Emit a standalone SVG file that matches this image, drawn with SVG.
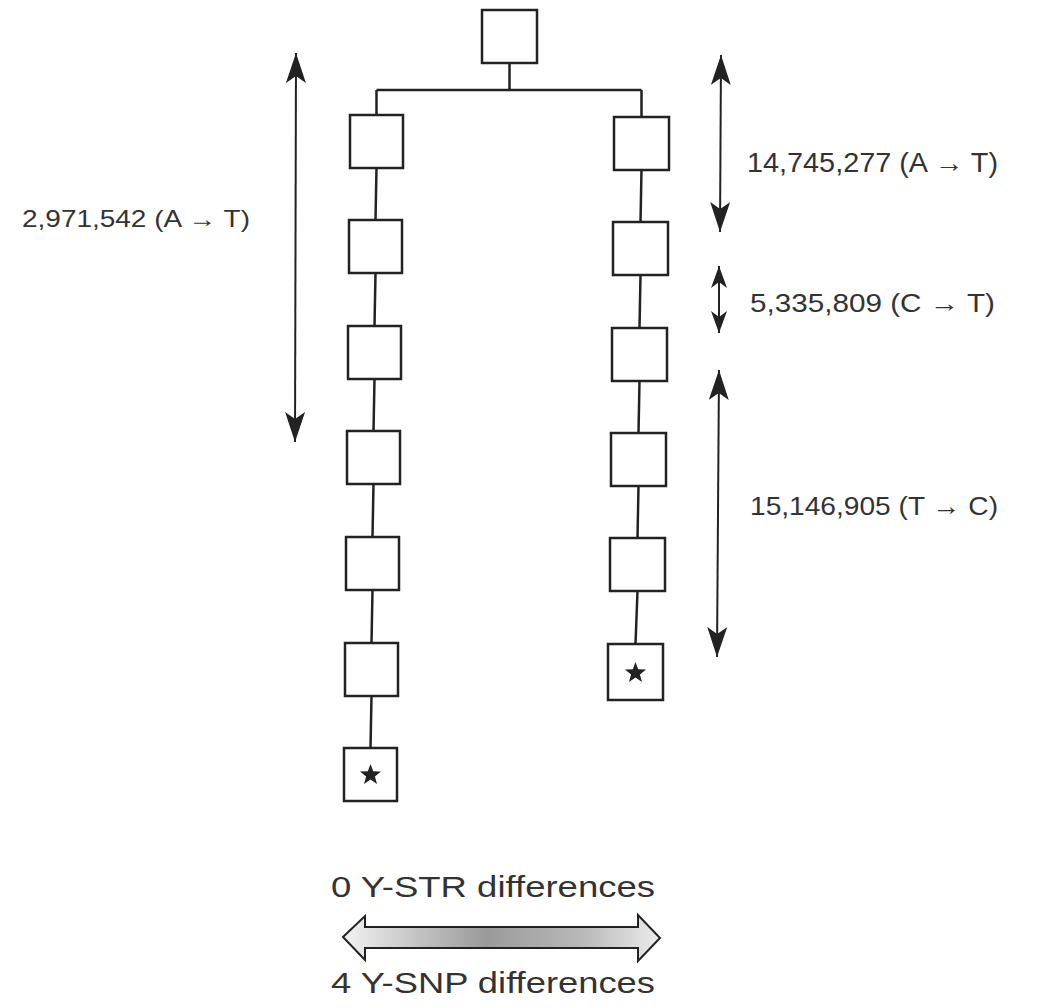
<svg xmlns="http://www.w3.org/2000/svg" width="1044" height="1008" viewBox="0 0 1044 1008">
<style>
.box{fill:#fff;stroke:#222;stroke-width:2.5}
.con{fill:none;stroke:#222;stroke-width:2.5}
.arr{fill:none;stroke:#222;stroke-width:2}
.lbl{font-family:"Liberation Sans",Arial,sans-serif;fill:#333}
.star{fill:#222}
</style>
<defs>
<marker id="head" markerUnits="userSpaceOnUse" viewBox="-30 -10 30 20" refX="0" refY="0" markerWidth="30" markerHeight="20" orient="auto-start-reverse">
<path d="M0,0 L-30,-10 L-23,0 L-30,10 Z" fill="#222"/>
</marker>
<marker id="headS" markerUnits="userSpaceOnUse" viewBox="-22 -8 22 16" refX="0" refY="0" markerWidth="22" markerHeight="16" orient="auto-start-reverse">
<path d="M0,0 L-22,-8 L-16,0 L-22,8 Z" fill="#222"/>
</marker>
<path id="star" d="M0,-11 L2.7,-3.7 L10.5,-3.4 L4.4,1.4 L6.5,8.9 L0,4.6 L-6.5,8.9 L-4.4,1.4 L-10.5,-3.4 L-2.7,-3.7 Z"/>
<linearGradient id="grad" x1="0" y1="0" x2="1" y2="0">
<stop offset="0" stop-color="#f2f2f2"/>
<stop offset="0.45" stop-color="#9a9a9a"/>
<stop offset="0.75" stop-color="#b8b8b8"/>
<stop offset="1" stop-color="#ececec"/>
</linearGradient>
</defs>
<rect width="1044" height="1008" fill="#fff"/>
<g id="connectors">
<path class="con" d="M509.5,63 V90 M376.5,90 H641.5 M376.5,90 V115 M641.5,90 V117"/>
<path class="con" d="M376.5,168 L375.5,220 M375.5,273 L374.5,326 M374.5,379 L373.5,431 M373.5,484 L372.5,537 M372.5,590 L371.5,643 M371.5,696 L370.5,748"/>
<path class="con" d="M641.5,170 L640.5,222 M640.5,275 L639.5,328 M639.5,381 L638.5,433 M638.5,486 L637.5,538 M637.5,591 L635.5,644"/>
</g>
<g id="top"><rect class="box" x="482" y="10" width="55" height="53"/></g>
<g id="L1"><rect class="box" x="350" y="115" width="53" height="53"/></g>
<g id="L2"><rect class="box" x="349" y="220" width="53" height="53"/></g>
<g id="L3"><rect class="box" x="348" y="326" width="53" height="53"/></g>
<g id="L4"><rect class="box" x="347" y="431" width="53" height="53"/></g>
<g id="L5"><rect class="box" x="346" y="537" width="53" height="53"/></g>
<g id="L6"><rect class="box" x="345" y="643" width="53" height="53"/></g>
<g id="L7"><rect class="box" x="344" y="748" width="53" height="53"/><use href="#star" class="star" x="370.5" y="775"/></g>
<g id="R1"><rect class="box" x="614" y="117" width="55" height="53"/></g>
<g id="R2"><rect class="box" x="613" y="222" width="55" height="53"/></g>
<g id="R3"><rect class="box" x="612" y="328" width="55" height="53"/></g>
<g id="R4"><rect class="box" x="611" y="433" width="55" height="53"/></g>
<g id="R5"><rect class="box" x="610" y="538" width="55" height="53"/></g>
<g id="R6"><rect class="box" x="608" y="644" width="55" height="56"/><use href="#star" class="star" x="635.5" y="673"/></g>
<g id="measures">
<line class="arr" x1="296" y1="53" x2="295" y2="442" marker-start="url(#head)" marker-end="url(#head)"/>
<line class="arr" x1="721" y1="55" x2="720" y2="232" marker-start="url(#head)" marker-end="url(#head)"/>
<line class="arr" x1="719" y1="266" x2="719" y2="333" marker-start="url(#headS)" marker-end="url(#headS)"/>
<line class="arr" x1="719" y1="370" x2="717" y2="657" marker-start="url(#head)" marker-end="url(#head)"/>
</g>
<g id="labels">
<text class="lbl" x="22" y="227" font-size="24" textLength="228" lengthAdjust="spacingAndGlyphs">2,971,542 (A → T)</text>
<text class="lbl" x="747" y="172" font-size="27" textLength="251" lengthAdjust="spacingAndGlyphs">14,745,277 (A → T)</text>
<text class="lbl" x="750" y="312" font-size="25" textLength="245" lengthAdjust="spacingAndGlyphs">5,335,809 (C → T)</text>
<text class="lbl" x="750" y="515" font-size="26" textLength="248" lengthAdjust="spacingAndGlyphs">15,146,905 (T → C)</text>
<text class="lbl" x="331" y="897" font-size="29" textLength="324" lengthAdjust="spacingAndGlyphs">0 Y-STR differences</text>
<text class="lbl" x="331" y="993" font-size="29" textLength="324" lengthAdjust="spacingAndGlyphs">4 Y-SNP differences</text>
</g>
<g id="bigarrow">
<path d="M343,937 L365,916 L365,927 L638,927 L638,915 L660,938 L638,961 L638,948 L365,948 L365,960 Z" fill="url(#grad)" stroke="#222" stroke-width="2" stroke-linejoin="miter"/>
</g>
</svg>
